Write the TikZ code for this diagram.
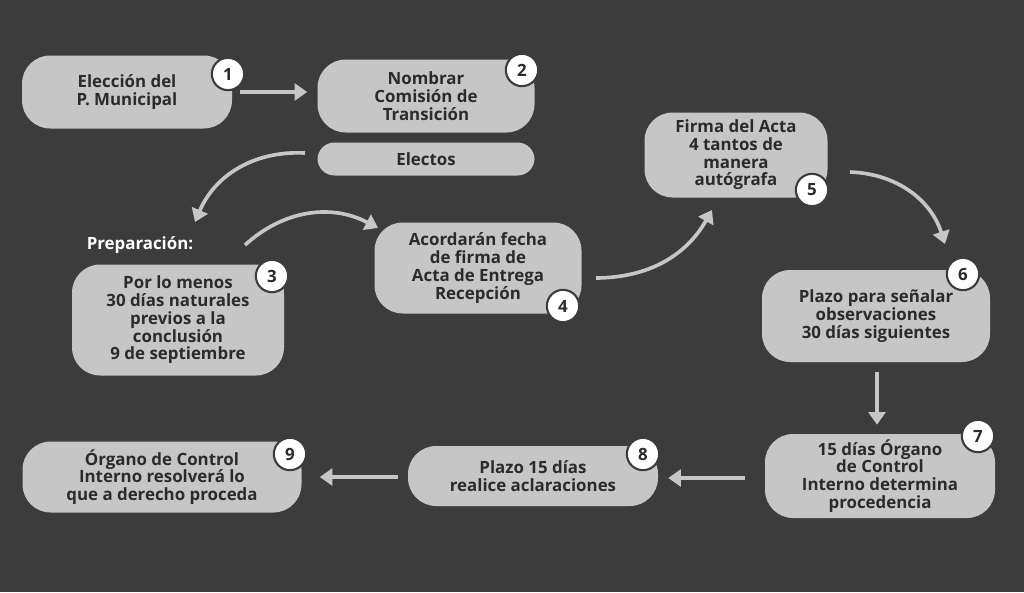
\documentclass[tikz,border=0pt]{standalone}
\usepackage{fontspec}
\setmainfont{Open Sans}
\usetikzlibrary{arrows.meta,calc}
\definecolor{bg}{HTML}{3C3C3C}
\definecolor{box}{HTML}{C6C6C6}
\definecolor{ink}{HTML}{2B2B2B}
\tikzset{
  stepbox/.style={fill=box, rounded corners=20pt, align=center, text=ink,
    font=\bfseries\fontsize{12}{12.6}\selectfont, inner sep=0pt},
  num/.style={circle, fill=white, draw=bg, line width=1.5pt, text=ink,
    minimum size=23pt, inner sep=0pt, font=\bfseries\fontsize{12}{12}\selectfont},
  flow/.style={draw=box, line width=2.6pt, -{Triangle[length=9pt,width=12pt]}}
}
\begin{document}
\begin{tikzpicture}[x=0.025cm, y=-0.025cm]
% background
\fill[bg] (0,0) rectangle (1024,592);
\useasboundingbox (0,0) rectangle (1024,592);

% steps
\node[stepbox, minimum width=210*0.025cm, minimum height=73*0.025cm] (S1) at (127,92) {Elección del\\P. Municipal};
\node[stepbox, minimum width=217*0.025cm, minimum height=73*0.025cm] (S2) at (426,96) {Nombrar\\Comisión de\\Transición};
\node[stepbox, rounded corners=12pt, minimum width=217*0.025cm, minimum height=33*0.025cm] (E) at (426,159) {Electos};
\node[stepbox, minimum width=212*0.025cm, minimum height=111*0.025cm] (S3) at (178,320) {Por lo menos\\30 días naturales\\previos a la\\conclusión\\9 de septiembre};
\node[stepbox, minimum width=207*0.025cm, minimum height=91*0.025cm] (S4) at (478,268) {Acordarán fecha\\de firma de\\Acta de Entrega\\Recepción};
\node[stepbox, minimum width=183*0.025cm, minimum height=85*0.025cm] (S5) at (736,155) {Firma del Acta\\4 tantos de\\manera\\autógrafa};
\node[stepbox, minimum width=228*0.025cm, minimum height=92*0.025cm] (S6) at (876,316) {Plazo para señalar\\observaciones\\30 días siguientes};
\node[stepbox, minimum width=230*0.025cm, minimum height=84*0.025cm] (S7) at (880,476) {15 días Órgano\\de Control\\Interno determina\\procedencia};
\node[stepbox, minimum width=250*0.025cm, minimum height=60*0.025cm] (S8) at (533,476) {Plazo 15 días\\realice aclaraciones};
\node[stepbox, minimum width=279*0.025cm, minimum height=71*0.025cm] (S9) at (162,477) {Órgano de Control\\Interno resolverá lo\\que a derecho proceda};
\node[text=white, font=\bfseries\fontsize{12}{12}\selectfont] (prep) at (140,245) {Preparación:};

% numbers
\node[num] (n1) at (228,74) {1};
\node[num] (n2) at (522,70) {2};
\node[num] (n3) at (272,276) {3};
\node[num] (n4) at (563,306) {4};
\node[num] (n5) at (812,190) {5};
\node[num] (n6) at (963,274) {6};
\node[num] (n7) at (978,436) {7};
\node[num] (n8) at (643,454) {8};
\node[num] (n9) at (290,454) {9};

% arrows
\coordinate (a0) at (305,153);
\coordinate (a1) at (195,222);
\coordinate (b0) at (245,245);
\coordinate (b1) at (378,228);
\coordinate (c0) at (596,278);
\coordinate (c1) at (712,210);
\coordinate (d0) at (850,172);
\coordinate (d1) at (945,244);
\draw[flow] ($(S1.east)+(8,0)$) -- ($(S2.west)+(-10,-4)$);
\draw[flow] (a0) to[bend right=35] (a1);
\draw[flow] (b0) to[bend left=35] (b1);
\draw[flow] (c0) to[bend right=30] (c1);
\draw[flow] (d0) to[bend left=35] (d1);
\draw[flow] ($(S6.south)+(1,10)$) -- ($(S7.north)+(-3,-9)$);
\draw[flow] ($(S7.west)+(-20,2)$) -- ($(S8.east)+(10,2)$);
\draw[flow] ($(S8.west)+(-10,1)$) -- ($(S9.east)+(18,0)$);
\end{tikzpicture}
\end{document}
